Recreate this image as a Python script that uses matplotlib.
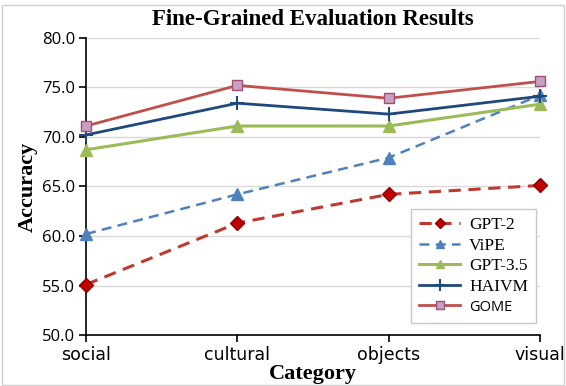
import numpy as np
import matplotlib.pyplot as plt
from matplotlib.patches import Rectangle

categories = ['social', 'cultural', 'objects', 'visual']
gpt2 = [55.1, 61.3, 64.2, 65.1]
vipe = [60.2, 64.2, 67.9, 74.2]
gpt35 = [68.7, 71.1, 71.1, 73.3]
haivm = [70.2, 73.4, 72.3, 74.1]
gome = [71.1, 75.2, 73.9, 75.6]

fig = plt.figure(figsize=(5.66, 3.86), dpi=100)
ax = fig.add_axes([0.152, 0.132, 0.802, 0.770])
x = np.arange(len(categories))

ax.plot(x, gpt2, color='#C0392F', linestyle=(0, (4, 2.5)), linewidth=2.2, marker='D',
        markersize=7, markerfacecolor='#C00000', markeredgecolor='#8B0000', label='GPT-2', zorder=3)
ax.plot(x, vipe, color='#4F81BD', linestyle=(0, (4, 2.5)), linewidth=1.8, marker='^',
        markersize=8, markerfacecolor='#4F81BD', markeredgecolor='#4F81BD', label='ViPE', zorder=3)
ax.plot(x, gpt35, color='#9BBB59', linewidth=2.2, marker='^', markersize=8,
        markerfacecolor='#9BBB59', markeredgecolor='#9BBB59', label='GPT-3.5', zorder=3)
ax.plot(x, haivm, color='#1F497D', linewidth=2.0, marker='+', markersize=10,
        markeredgewidth=1.5, label='HAIVM', zorder=3)
ax.plot(x, gome, color='#C0504D', linewidth=2.0, marker='s', markersize=7,
        markerfacecolor='#C9A0C4', markeredgecolor='#A05070', label='GOME', zorder=3)

ax.set_xlim(0, 3)
ax.set_ylim(50, 80)
ax.set_yticks(np.arange(50, 80.1, 5))
ax.set_yticklabels([f'{v:.1f}' for v in np.arange(50, 80.1, 5)], fontsize=12, family='Open Sans')
ax.set_xticks(x)
ax.set_xticklabels(categories, fontsize=12.5, family='DejaVu Sans')
ax.yaxis.grid(True, color='#D9D9D9', linewidth=1)
ax.set_axisbelow(True)
for s in ['top', 'right']:
    ax.spines[s].set_visible(False)
ax.spines['left'].set_linewidth(1.2)
ax.spines['bottom'].set_linewidth(1.2)
ax.tick_params(direction='out', length=5, width=1.2, pad=3)
for line in ax.get_lines():
    line.set_clip_on(False)

ax.set_title('Fine-Grained Evaluation Results', fontsize=16.5, fontweight='bold',
             family='Liberation Serif', pad=9)
ax.set_xlabel('Category', fontsize=16, fontweight='bold', family='Liberation Serif', labelpad=0)
ax.set_ylabel('Accuracy', fontsize=16, fontweight='bold', family='Liberation Serif', labelpad=3)

leg = ax.legend(loc='lower right', bbox_to_anchor=(0.991, 0.04), borderaxespad=0, fancybox=False,
                edgecolor='#C8C8C8', framealpha=1, prop={'family': 'Liberation Serif', 'size': 12.5},
                handlelength=2.4, handletextpad=0.5, labelspacing=0.25, borderpad=0.45,
                markerscale=0.8)
leg.get_frame().set_linewidth(1)
leg.get_texts()[-1].set_family('Open Sans')
leg.get_texts()[-1].set_fontsize(10.5)

fig.patches.append(Rectangle((0.003, 0.003), 0.994, 0.985, transform=fig.transFigure,
                             fill=False, edgecolor='#D0D0D0', linewidth=1))

fig.savefig('out.png', dpi=100)
